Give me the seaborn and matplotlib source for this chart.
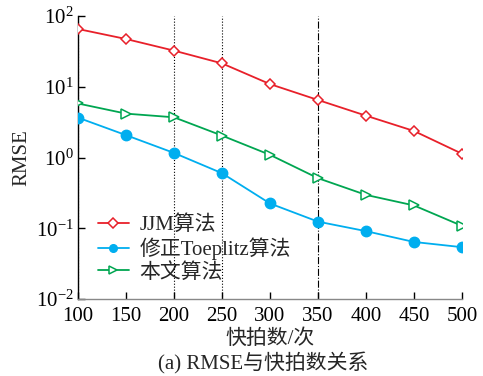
import matplotlib
matplotlib.use("Agg")
import matplotlib.pyplot as plt
import matplotlib.ticker as mticker
import seaborn as sns
import pandas as pd

snapshots = [100, 150, 200, 250, 300, 350, 400, 450, 500]
jjm = [65.5, 47.3, 32.4, 21.4, 10.9, 6.5, 3.9, 2.37, 1.13]
toeplitz = [3.66, 2.07, 1.16, 0.60, 0.224, 0.124, 0.091, 0.064, 0.054]
proposed = [5.8, 4.17, 3.7, 2.04, 1.09, 0.51, 0.296, 0.21, 0.108]
labels = ["JJM算法", "修正Toeplitz算法", "本文算法"]
xticks = [100, 150, 200, 250, 300, 350, 400, 450, 500]

sns.set_theme(style="white")
plt.rcParams["font.family"] = ["Liberation Serif", "Noto Sans CJK SC"]
plt.rcParams["mathtext.fontset"] = "stix"

W, H = 483, 376
fig = plt.figure(figsize=(W/100, H/100), dpi=100)
ax = fig.add_axes([78/W, 1-299/H, (462-78)/W, (299-16)/H])

# reference vertical lines
for xv, ls in [(100, ":"), (200, ":"), (250, ":"), (350, "-.")]:
    ax.axvline(xv, color="black", lw=0.8, ls=ls, zorder=1)

styles = [
    dict(color="#E8202A", marker="D", markersize=5.5, markerfacecolor="white",
         markeredgecolor="#E8202A", markeredgewidth=1.1),
    dict(color="#00AEEF", marker="o", markersize=7.5, markerfacecolor="#00AEEF",
         markeredgecolor="#00AEEF", markeredgewidth=1.0),
    dict(color="#00A651", marker=">", markersize=7, markerfacecolor="white",
         markeredgecolor="#00A651", markeredgewidth=1.1),
]
for vals, lab, st in zip([jjm, toeplitz, proposed], labels, styles):
    df = pd.DataFrame({"x": snapshots, "y": vals})
    sns.lineplot(data=df, x="x", y="y", ax=ax, label=lab, lw=1.3, zorder=3, **st)

FS = 15
ax.set_yscale("log")
ax.set_xlim(100, 500)
ax.set_ylim(1e-2, 1e2)
ax.set_xticks(xticks)
ax.yaxis.set_major_locator(mticker.LogLocator(base=10, numticks=10))
ax.yaxis.set_minor_locator(mticker.NullLocator())
ax.tick_params(axis="both", direction="in", length=5, width=1, colors="black",
               labelsize=FS)
ax.tick_params(axis="y", left=True, pad=3)
ax.tick_params(axis="x", bottom=True, pad=6)

for s in ["top", "right"]:
    ax.spines[s].set_visible(False)
ax.spines["left"].set_color("black")
ax.spines["left"].set_linewidth(1.0)
ax.spines["bottom"].set_color("#888888")
ax.spines["bottom"].set_linewidth(1.0)
ax.spines["bottom"].set_linestyle((0, (1.5, 1)))

ax.set_xlabel("快拍数/次", fontsize=FS)
ax.set_ylabel("RMSE", fontsize=FS)
ax.xaxis.set_label_coords(0.5, (299-339)/283)
ax.xaxis.label.set_va("center")
ax.yaxis.set_label_coords((22-78)/384, 0.5)
ax.yaxis.label.set_va("center")

leg = ax.legend(loc="upper left", bbox_to_anchor=(0.03, 0.325), frameon=False,
                fontsize=FS, handlelength=1.5, handletextpad=0.5, labelspacing=0.12,
                borderaxespad=0)
for h in leg.legend_handles:
    h.set_markersize(5.5)

fig.text(263/W, 1 - 363/H, "(a) RMSE与快拍数关系", ha="center", va="center", fontsize=FS)

fig.savefig("out.png", dpi=100, facecolor="white")
